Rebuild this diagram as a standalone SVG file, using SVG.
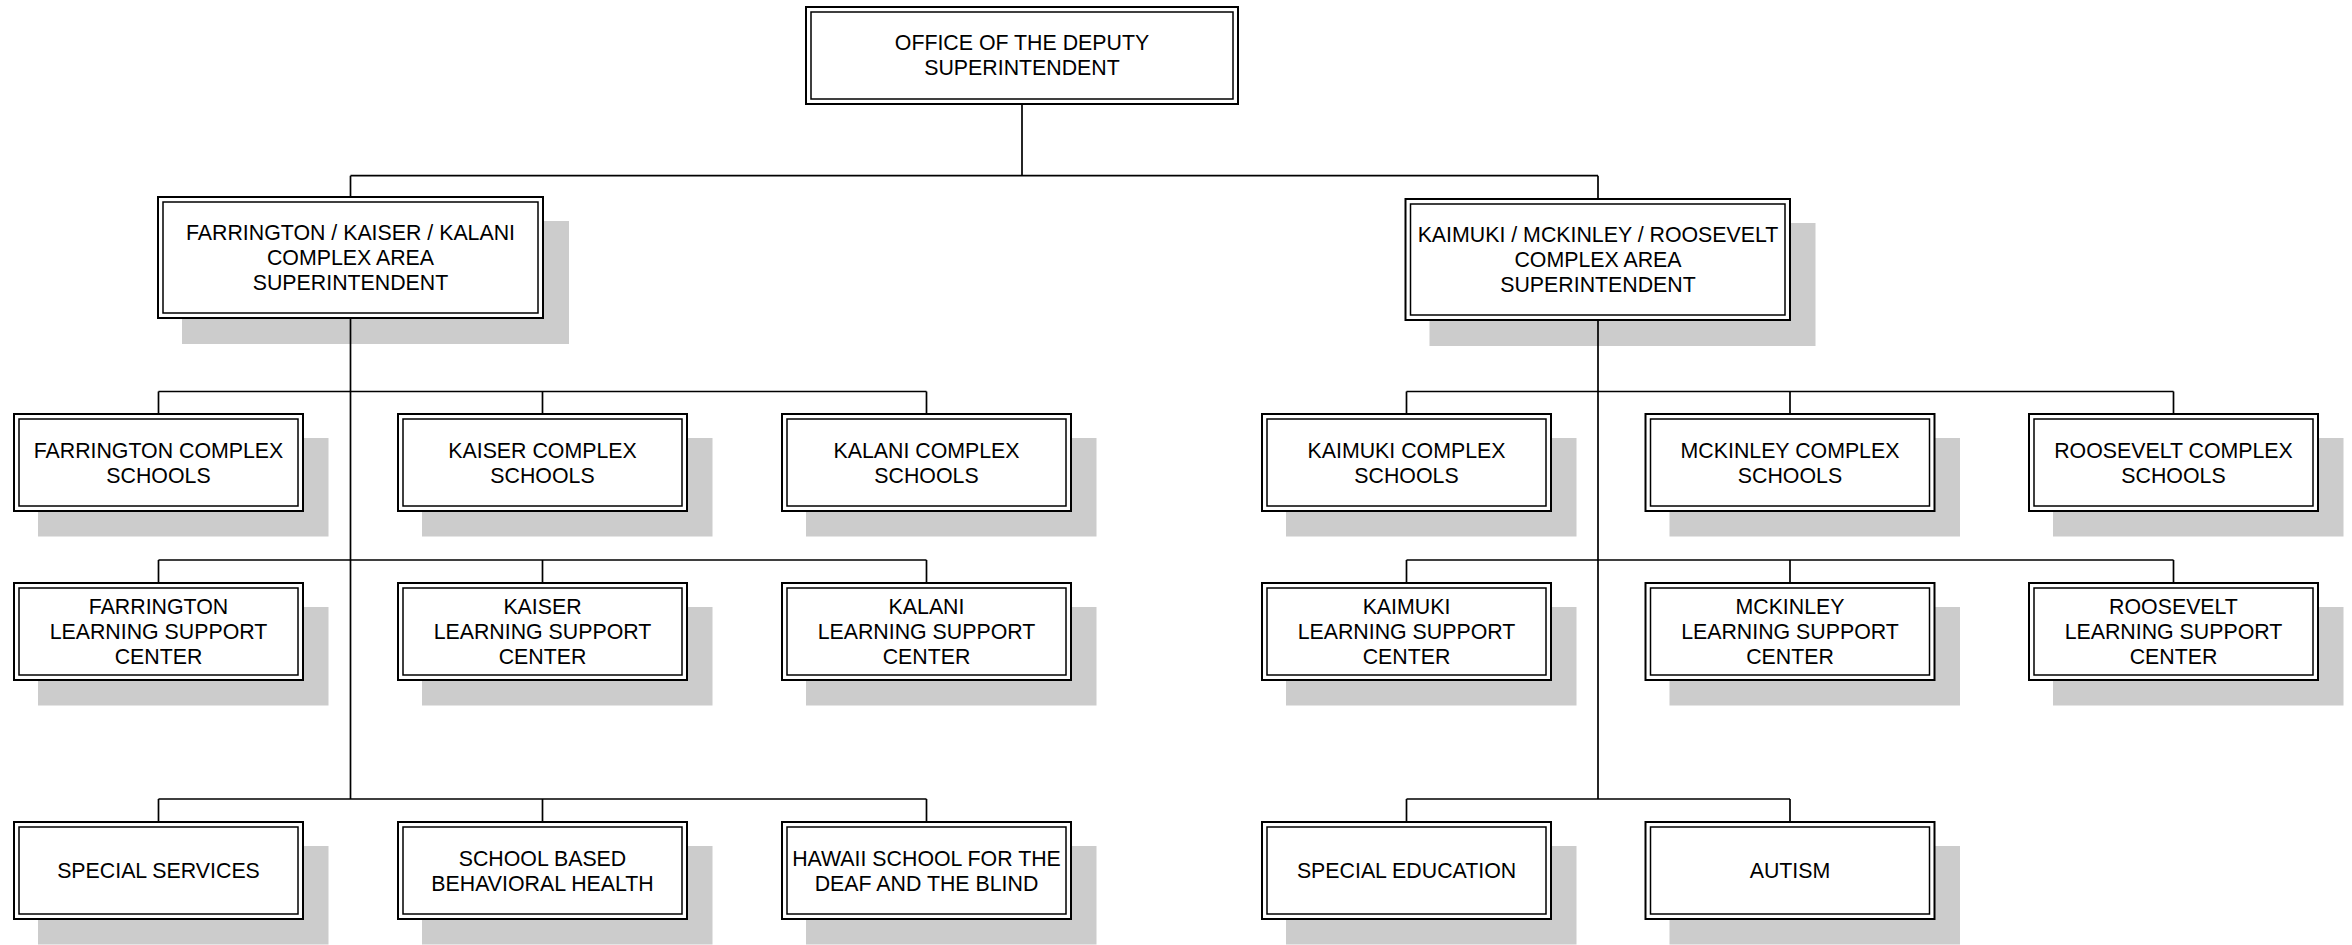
<svg xmlns="http://www.w3.org/2000/svg" width="2352" height="945" viewBox="0 0 2352 945">
<style>
.sh{fill:#cccccc;stroke:none}
.o{fill:#ffffff;stroke:#000;stroke-width:2}
.i{fill:none;stroke:#000;stroke-width:1.5}
.c{fill:none;stroke:#000;stroke-width:1.7}
text{font-family:"Liberation Sans",Arial,sans-serif;font-size:21.33px;text-anchor:middle;fill:#000}
</style>
<rect x="0" y="0" width="2352" height="945" fill="#ffffff"/>

<g id="n-top">
<rect class="o" x="806" y="7" width="432" height="97"/>
<rect class="i" x="811" y="12" width="422" height="87"/>
<text x="1022" y="50">OFFICE OF THE DEPUTY</text>
<text x="1022" y="75">SUPERINTENDENT</text>
</g>

<g id="n-fkk">
<rect class="sh" x="182" y="221" width="387" height="123"/>
<rect class="o" x="158" y="197" width="385" height="121"/>
<rect class="i" x="163" y="202" width="375" height="111"/>
<text x="350.5" y="240.1">FARRINGTON / KAISER / KALANI</text>
<text x="350.5" y="265.1">COMPLEX AREA</text>
<text x="350.5" y="290.1">SUPERINTENDENT</text>
</g>

<g id="n-kmr">
<rect class="sh" x="1429.5" y="223" width="386" height="123"/>
<rect class="o" x="1405.5" y="199" width="384.5" height="121"/>
<rect class="i" x="1410.5" y="204" width="374.5" height="111"/>
<text x="1598" y="242.1">KAIMUKI / MCKINLEY / ROOSEVELT</text>
<text x="1598" y="267.1">COMPLEX AREA</text>
<text x="1598" y="292.1">SUPERINTENDENT</text>
</g>

<!-- Row 1 -->
<g id="n-farr-cs">
<rect class="sh" x="38" y="438" width="290.5" height="98.5"/>
<rect class="o" x="14" y="414" width="289" height="97"/>
<rect class="i" x="19" y="419" width="279" height="87"/>
<text x="158.5" y="457.6">FARRINGTON COMPLEX</text>
<text x="158.5" y="482.6">SCHOOLS</text>
</g>
<g id="n-kais-cs">
<rect class="sh" x="422" y="438" width="290.5" height="98.5"/>
<rect class="o" x="398" y="414" width="289" height="97"/>
<rect class="i" x="403" y="419" width="279" height="87"/>
<text x="542.5" y="457.6">KAISER COMPLEX</text>
<text x="542.5" y="482.6">SCHOOLS</text>
</g>
<g id="n-kala-cs">
<rect class="sh" x="806" y="438" width="290.5" height="98.5"/>
<rect class="o" x="782" y="414" width="289" height="97"/>
<rect class="i" x="787" y="419" width="279" height="87"/>
<text x="926.5" y="457.6">KALANI COMPLEX</text>
<text x="926.5" y="482.6">SCHOOLS</text>
</g>
<g id="n-kaim-cs">
<rect class="sh" x="1286" y="438" width="290.5" height="98.5"/>
<rect class="o" x="1262" y="414" width="289" height="97"/>
<rect class="i" x="1267" y="419" width="279" height="87"/>
<text x="1406.5" y="457.6">KAIMUKI COMPLEX</text>
<text x="1406.5" y="482.6">SCHOOLS</text>
</g>
<g id="n-mck-cs">
<rect class="sh" x="1669.5" y="438" width="290.5" height="98.5"/>
<rect class="o" x="1645.5" y="414" width="289" height="97"/>
<rect class="i" x="1650.5" y="419" width="279" height="87"/>
<text x="1790" y="457.6">MCKINLEY COMPLEX</text>
<text x="1790" y="482.6">SCHOOLS</text>
</g>
<g id="n-roos-cs">
<rect class="sh" x="2053" y="438" width="290.5" height="98.5"/>
<rect class="o" x="2029" y="414" width="289" height="97"/>
<rect class="i" x="2034" y="419" width="279" height="87"/>
<text x="2173.5" y="457.6">ROOSEVELT COMPLEX</text>
<text x="2173.5" y="482.6">SCHOOLS</text>
</g>

<!-- Row 2 -->
<g id="n-farr-lsc">
<rect class="sh" x="38" y="607" width="290.5" height="98.5"/>
<rect class="o" x="14" y="583" width="289" height="97"/>
<rect class="i" x="19" y="588" width="279" height="87"/>
<text x="158.5" y="614.1">FARRINGTON</text>
<text x="158.5" y="639.1">LEARNING SUPPORT</text>
<text x="158.5" y="664.1">CENTER</text>
</g>
<g id="n-kais-lsc">
<rect class="sh" x="422" y="607" width="290.5" height="98.5"/>
<rect class="o" x="398" y="583" width="289" height="97"/>
<rect class="i" x="403" y="588" width="279" height="87"/>
<text x="542.5" y="614.1">KAISER</text>
<text x="542.5" y="639.1">LEARNING SUPPORT</text>
<text x="542.5" y="664.1">CENTER</text>
</g>
<g id="n-kala-lsc">
<rect class="sh" x="806" y="607" width="290.5" height="98.5"/>
<rect class="o" x="782" y="583" width="289" height="97"/>
<rect class="i" x="787" y="588" width="279" height="87"/>
<text x="926.5" y="614.1">KALANI</text>
<text x="926.5" y="639.1">LEARNING SUPPORT</text>
<text x="926.5" y="664.1">CENTER</text>
</g>
<g id="n-kaim-lsc">
<rect class="sh" x="1286" y="607" width="290.5" height="98.5"/>
<rect class="o" x="1262" y="583" width="289" height="97"/>
<rect class="i" x="1267" y="588" width="279" height="87"/>
<text x="1406.5" y="614.1">KAIMUKI</text>
<text x="1406.5" y="639.1">LEARNING SUPPORT</text>
<text x="1406.5" y="664.1">CENTER</text>
</g>
<g id="n-mck-lsc">
<rect class="sh" x="1669.5" y="607" width="290.5" height="98.5"/>
<rect class="o" x="1645.5" y="583" width="289" height="97"/>
<rect class="i" x="1650.5" y="588" width="279" height="87"/>
<text x="1790" y="614.1">MCKINLEY</text>
<text x="1790" y="639.1">LEARNING SUPPORT</text>
<text x="1790" y="664.1">CENTER</text>
</g>
<g id="n-roos-lsc">
<rect class="sh" x="2053" y="607" width="290.5" height="98.5"/>
<rect class="o" x="2029" y="583" width="289" height="97"/>
<rect class="i" x="2034" y="588" width="279" height="87"/>
<text x="2173.5" y="614.1">ROOSEVELT</text>
<text x="2173.5" y="639.1">LEARNING SUPPORT</text>
<text x="2173.5" y="664.1">CENTER</text>
</g>

<!-- Row 3 -->
<g id="n-spec-serv">
<rect class="sh" x="38" y="846" width="290.5" height="98.5"/>
<rect class="o" x="14" y="822" width="289" height="97"/>
<rect class="i" x="19" y="827" width="279" height="87"/>
<text x="158.5" y="878.1">SPECIAL SERVICES</text>
</g>
<g id="n-sbbh">
<rect class="sh" x="422" y="846" width="290.5" height="98.5"/>
<rect class="o" x="398" y="822" width="289" height="97"/>
<rect class="i" x="403" y="827" width="279" height="87"/>
<text x="542.5" y="865.6">SCHOOL BASED</text>
<text x="542.5" y="890.6">BEHAVIORAL HEALTH</text>
</g>
<g id="n-hsdb">
<rect class="sh" x="806" y="846" width="290.5" height="98.5"/>
<rect class="o" x="782" y="822" width="289" height="97"/>
<rect class="i" x="787" y="827" width="279" height="87"/>
<text x="926.5" y="865.6">HAWAII SCHOOL FOR THE</text>
<text x="926.5" y="890.6">DEAF AND THE BLIND</text>
</g>
<g id="n-spec-ed">
<rect class="sh" x="1286" y="846" width="290.5" height="98.5"/>
<rect class="o" x="1262" y="822" width="289" height="97"/>
<rect class="i" x="1267" y="827" width="279" height="87"/>
<text x="1406.5" y="878.1">SPECIAL EDUCATION</text>
</g>
<g id="n-autism">
<rect class="sh" x="1669.5" y="846" width="290.5" height="98.5"/>
<rect class="o" x="1645.5" y="822" width="289" height="97"/>
<rect class="i" x="1650.5" y="827" width="279" height="87"/>
<text x="1790" y="878.1">AUTISM</text>
</g>

<g id="connectors">
<path class="c" d="M1022,104 V175.7 M350.5,175.7 H1598 M350.5,175.7 V197 M1598,175.7 V199"/>
<path class="c" d="M350.5,318 V799 M1598,320 V799"/>
<path class="c" d="M158.5,391.5 H926.5 M158.5,391.5 V414 M542.5,391.5 V414 M926.5,391.5 V414"/>
<path class="c" d="M1406.5,391.5 H2173.5 M1406.5,391.5 V414 M1790,391.5 V414 M2173.5,391.5 V414"/>
<path class="c" d="M158.5,560 H926.5 M158.5,560 V583 M542.5,560 V583 M926.5,560 V583"/>
<path class="c" d="M1406.5,560 H2173.5 M1406.5,560 V583 M1790,560 V583 M2173.5,560 V583"/>
<path class="c" d="M158.5,799 H926.5 M158.5,799 V822 M542.5,799 V822 M926.5,799 V822"/>
<path class="c" d="M1406.5,799 H1790 M1406.5,799 V822 M1790,799 V822"/>
</g>
</svg>
